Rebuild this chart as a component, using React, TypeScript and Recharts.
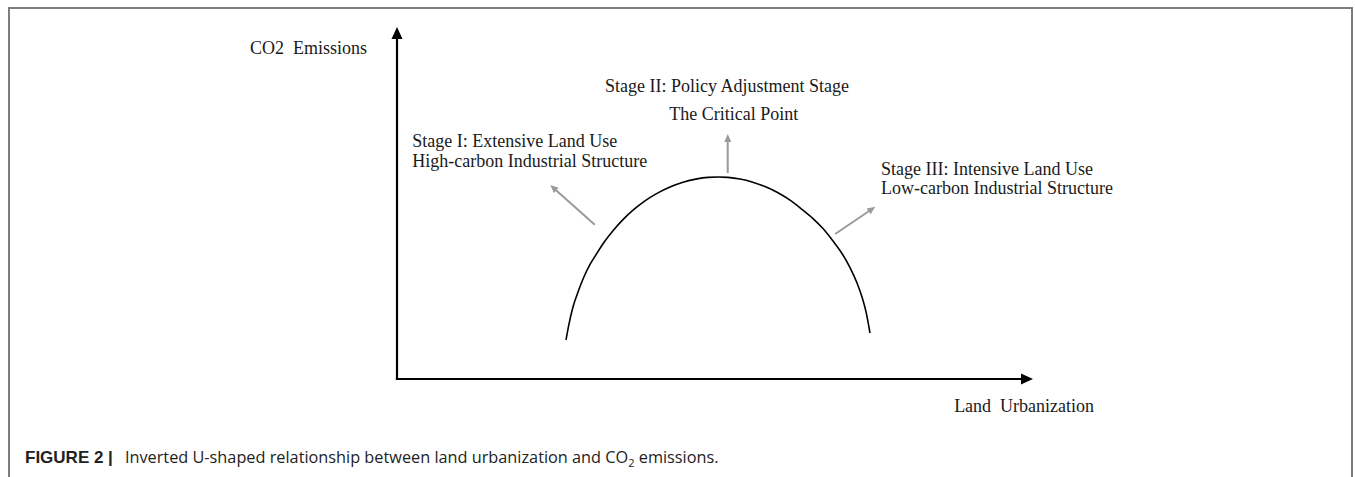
import { LineChart, Line, XAxis, YAxis, ReferenceLine, ReferenceDot } from "recharts";

// inverted-U curve (0..100 on both axes)
const curveX = [
  26.57, 27.04, 27.67, 28.46, 29.25, 30.35, 31.45, 32.7, 33.96, 35.53, 37.11, 38.99, 40.88, 42.92, 44.97, 47.17, 48.9,
  50.47, 52.04, 53.93, 55.82, 57.86, 59.91, 61.79, 63.68, 65.41, 66.98, 68.55, 69.97, 71.23, 72.33, 73.11, 73.74, 74.37,
];
const curveY = [
  11.08, 15.6, 20.45, 24.72, 28.41, 32.53, 35.77, 39.2, 42.13, 45.28, 47.95, 50.6, 52.73, 54.55, 55.91, 56.85, 57.27,
  57.39, 57.27, 56.8, 55.98, 54.66, 52.9, 50.8, 48.18, 45.57, 42.73, 39.2, 35.65, 31.65, 27.27, 23.3, 19.12, 13.07,
];

// axis arrows: [x1, y1, x2, y2]
const axisArrows = [
  [0, 0, 0, 100],
  [0, 0, 100, 0],
];

// grey pointers from the curve to the stage labels
const stageArrows = [
  [31.1, 43.8, 24.1, 55.1],
  [52.0, 58.5, 52.0, 69.6],
  [68.9, 41.2, 75.2, 48.9],
];

const labelText = [
  "CO2  Emissions",
  "Land  Urbanization",
  "Stage I: Extensive Land Use",
  "High-carbon Industrial Structure",
  "Stage II: Policy Adjustment Stage",
  "The Critical Point",
  "Stage III: Intensive Land Use",
  "Low-carbon Industrial Structure",
];
const labelX = [-4.7, 87.6, 2.4, 2.4, 32.7, 42.8, 76.1, 76.1];
const labelY = [92.3, -9.4, 65.9, 60.2, 81.5, 73.6, 58.0, 52.6];
const labelAnchor = ["end", "start", "start", "start", "start", "start", "start", "start"];

const curve = curveX.map((x, i) => ({ x, y: curveY[i] }));

function Arrow(p: any) {
  const { x1, y1, x2, y2, color, width, head, headW, cap } = p;
  const dx = x2 - x1;
  const dy = y2 - y1;
  const len = Math.hypot(dx, dy) || 1;
  const ux = dx / len;
  const uy = dy / len;
  const bx = x2 - ux * head;
  const by = y2 - uy * head;
  const px = (-uy * headW) / 2;
  const py = (ux * headW) / 2;
  return (
    <g>
      <line x1={x1} y1={y1} x2={bx + ux} y2={by + uy} stroke={color} strokeWidth={width} strokeLinecap={cap} />
      <polygon points={`${x2},${y2} ${bx + px},${by + py} ${bx - px},${by - py}`} fill={color} />
    </g>
  );
}

export default function App() {
  return (
    <div style={{ position: "absolute", left: 0, top: 0, width: 1355, height: 477, overflow: "hidden", background: "#fff" }}>
      <div
        style={{
          position: "absolute",
          left: 8,
          top: 7,
          width: 1345,
          height: 520,
          border: "2px solid #7d7d7d",
          boxSizing: "border-box",
        }}
      />
      <div style={{ position: "absolute", left: 0, top: 0 }}>
        <LineChart width={1355} height={477} data={curve} margin={{ top: 27, right: 322, bottom: 98, left: 397 }}>
          <XAxis type="number" dataKey="x" domain={[0, 100]} hide />
          <YAxis type="number" domain={[0, 100]} hide />
          {axisArrows.map((a, i) => (
            <ReferenceLine
              key={"ax" + i}
              segment={[{ x: a[0], y: a[1] }, { x: a[2], y: a[3] }]}
              ifOverflow="visible"
              shape={(p: any) => <Arrow {...p} color="#000" width={2.2} head={12} headW={11} cap="square" />}
            />
          ))}
          {stageArrows.map((a, i) => (
            <ReferenceLine
              key={"st" + i}
              segment={[{ x: a[0], y: a[1] }, { x: a[2], y: a[3] }]}
              ifOverflow="visible"
              shape={(p: any) => <Arrow {...p} color="#9a9a9a" width={2} head={8} headW={7} cap="butt" />}
            />
          ))}
          <Line
            type="monotone"
            dataKey="y"
            stroke="#000"
            strokeWidth={1.6}
            dot={false}
            activeDot={false}
            isAnimationActive={false}
          />
          {labelText.map((t, i) => (
            <ReferenceDot
              key={"lb" + i}
              x={labelX[i]}
              y={labelY[i]}
              r={0}
              ifOverflow="visible"
              shape={(p: any) => (
                <text
                  x={p.cx}
                  y={p.cy}
                  textAnchor={labelAnchor[i]}
                  fontFamily="'Liberation Serif', 'Times New Roman', serif"
                  fontSize={18}
                  fill="#1a1a1a"
                  style={{ whiteSpace: "pre" }}
                >
                  {t}
                </text>
              )}
            />
          ))}
        </LineChart>
      </div>
      <div
        style={{
          position: "absolute",
          left: 25,
          top: 448,
          fontFamily: "'Open Sans', Arial, sans-serif",
          fontSize: 16.3,
          lineHeight: "18px",
          color: "#222",
          whiteSpace: "nowrap",
        }}
      >
        <b style={{ fontFamily: "'Liberation Sans', Arial, sans-serif", fontSize: 17, marginRight: 12 }}>FIGURE 2 |</b>
        Inverted U-shaped relationship between land urbanization and CO<sub style={{ fontSize: 11 }}>2</sub> emissions.
      </div>
    </div>
  );
}
